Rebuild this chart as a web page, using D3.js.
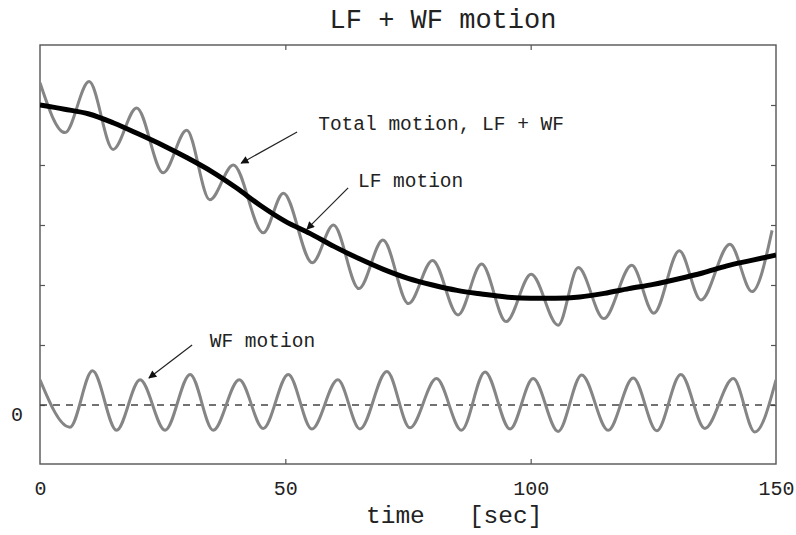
<!DOCTYPE html>
<html>
<head>
<meta charset="utf-8">
<script src="https://cdn.jsdelivr.net/npm/d3@7"></script>
<style>
  html, body { margin: 0; padding: 0; background: #fff; }
  svg { display: block; }
  text { font-family: "Liberation Mono", "Courier New", "DejaVu Sans Mono", monospace; fill: #222; }
</style>
</head>
<body>
<svg id="chart" width="796" height="535"></svg>
<script>
// ---- data ----
const titleText = "LF + WF motion";
const xLabelText = "time   [sec]";
const xTicks = [0, 50, 100, 150];
const yTicks = [0, 1, 2, 3, 4, 5];
const yTickLabels = ["0", "", "", "", "", ""];

// LF (low-frequency) motion
const lfTime  = [0,5,10,15,20,25,30,35,40,45,50,55,60,65,70,75,80,85,90,95,100,105,110,115,120,125,130,135,140,145,150];
const lfValue = [5.00,4.93,4.85,4.70,4.52,4.33,4.12,3.89,3.62,3.32,3.06,2.86,2.64,2.44,2.26,2.11,2.00,1.91,1.85,1.80,1.78,1.78,1.80,1.86,1.94,2.01,2.10,2.20,2.32,2.41,2.50];

// WF (wave-frequency) motion, read at its peaks and troughs
const wfTime  = [0,6.1,10.7,15.6,20.4,25.5,30.6,35.3,40.6,45.5,50.6,55.4,60.7,65.2,70.7,75.4,80.8,85.9,90.7,95.8,100.5,105.6,110.4,115.8,120.9,125.7,130.6,135.5,141.3,145.7,150];
const wfValue = [0.42,-0.37,0.57,-0.42,0.42,-0.42,0.51,-0.42,0.42,-0.39,0.51,-0.40,0.42,-0.40,0.56,-0.38,0.44,-0.42,0.55,-0.40,0.44,-0.44,0.50,-0.42,0.45,-0.43,0.51,-0.39,0.44,-0.45,0.42];

// Total motion LF + WF, read at its peaks and troughs
const totalTime  = [0,5.1,10.0,14.9,19.7,25.1,29.9,34.6,39.4,45.5,49.6,55.5,59.8,65.0,69.9,75.1,80.0,85.2,90.0,95.0,100.1,105.6,109.7,114.9,120.6,125.1,130.3,134.7,140.6,145.1,149.2];
const totalValue = [5.37,4.54,5.39,4.26,4.95,3.87,4.58,3.42,4.00,2.87,3.53,2.37,3.00,1.94,2.75,1.69,2.41,1.50,2.35,1.39,2.18,1.33,2.29,1.44,2.33,1.53,2.57,1.75,2.68,1.89,2.91];

// annotations: label text, label anchor (time, value), arrow start and tip (time, value)
const annoText  = ["Total motion, LF + WF", "LF motion", "WF motion"];
const annoLabel = [[56.7, 4.58], [64.8, 3.63], [34.6, 0.97]];
const annoFrom  = [[52.4, 4.55], [62.8, 3.62], [31.0, 1.00]];
const annoTo    = [[41.0, 4.03], [54.4, 2.93], [22.2, 0.45]];

// ---- layout ----
const L = 40, R = 776, T = 45, B = 464;
const svg = d3.select("#chart");
const x = d3.scaleLinear().domain([0, 150]).range([L, R]);
const y = d3.scaleLinear().domain([-1, 6]).range([465, 45]);

svg.append("defs").append("marker")
  .attr("id", "arrow").attr("viewBox", "0 0 10 10")
  .attr("refX", 9).attr("refY", 5)
  .attr("markerWidth", 11).attr("markerHeight", 8)
  .attr("markerUnits", "userSpaceOnUse")
  .attr("orient", "auto")
  .append("path").attr("d", "M0,0 L10,5 L0,10 Z").attr("fill", "#111");

svg.append("clipPath").attr("id", "clip")
  .append("rect").attr("x", L).attr("y", T).attr("width", R - L).attr("height", B - T);

// frame
svg.append("rect").attr("x", L).attr("y", T).attr("width", R - L).attr("height", B - T)
  .attr("fill", "none").attr("stroke", "#555").attr("stroke-width", 1.4);

// axes (ticks inward)
const axStyle = g => {
  g.select(".domain").remove();
  g.selectAll(".tick line").attr("stroke", "#555").attr("stroke-width", 1.2);
  g.selectAll("text").attr("font-size", 20).attr("fill", "#222")
    .style("font-family", '"Liberation Mono", "Courier New", monospace');
};
svg.append("g").attr("transform", `translate(0,${B})`)
  .call(d3.axisBottom(x).tickValues(xTicks).tickSizeInner(-5).tickSizeOuter(0).tickPadding(17).tickFormat(d3.format("d")))
  .call(axStyle)
  .call(g => g.selectAll(".tick").filter(d => d === 0 || d === 150).select("line").remove());
svg.append("g").attr("transform", `translate(0,${T})`)
  .call(d3.axisTop(x).tickValues([50, 100]).tickSizeInner(-5).tickSizeOuter(0).tickFormat(""))
  .call(axStyle);
svg.append("g").attr("transform", `translate(${L},0)`)
  .call(d3.axisLeft(y).tickValues(yTicks).tickSizeInner(-5).tickSizeOuter(0).tickPadding(17)
    .tickFormat((d, i) => yTickLabels[i]))
  .call(axStyle)
  .call(g => g.selectAll("text").attr("dy", "0.75em").attr("y", 0));
svg.append("g").attr("transform", `translate(${R},0)`)
  .call(d3.axisRight(y).tickValues(yTicks).tickSizeInner(-5).tickSizeOuter(0).tickFormat(""))
  .call(axStyle);

// zero reference line
svg.append("line")
  .attr("x1", x(0)).attr("x2", x(150)).attr("y1", y(0)).attr("y2", y(0))
  .attr("stroke", "#444").attr("stroke-width", 1.5).attr("stroke-dasharray", "7,6");

const plot = svg.append("g").attr("clip-path", "url(#clip)");
const line = d3.line().x(d => x(d[0])).y(d => y(d[1])).curve(d3.curveMonotoneX);

plot.append("path").datum(wfTime.map((t, i) => [t, wfValue[i]]))
  .attr("d", line).attr("fill", "none").attr("stroke", "#858585").attr("stroke-width", 3)
  .attr("stroke-linejoin", "round");
plot.append("path").datum(totalTime.map((t, i) => [t, totalValue[i]]))
  .attr("d", line).attr("fill", "none").attr("stroke", "#858585").attr("stroke-width", 3)
  .attr("stroke-linejoin", "round");
plot.append("path").datum(lfTime.map((t, i) => [t, lfValue[i]]))
  .attr("d", line).attr("fill", "none").attr("stroke", "#000").attr("stroke-width", 5)
  .attr("stroke-linejoin", "round");

// annotations
annoText.forEach((txt, i) => {
  svg.append("text").attr("x", x(annoLabel[i][0])).attr("y", y(annoLabel[i][1]))
    .attr("font-size", 19.5).text(txt);
  svg.append("line")
    .attr("x1", x(annoFrom[i][0])).attr("y1", y(annoFrom[i][1]))
    .attr("x2", x(annoTo[i][0])).attr("y2", y(annoTo[i][1]))
    .attr("stroke", "#222").attr("stroke-width", 1.2)
    .attr("marker-end", "url(#arrow)");
});

// title and axis label
svg.append("text").attr("x", 443).attr("y", 28).attr("text-anchor", "middle")
  .attr("font-size", 27).text(titleText);
svg.append("text").attr("x", 366).attr("y", 523)
  .attr("font-size", 24.5).style("white-space", "pre").text(xLabelText);
</script>
</body>
</html>
